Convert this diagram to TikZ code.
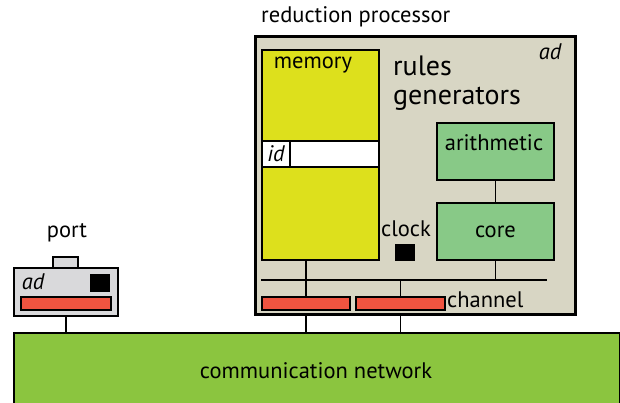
\documentclass[tikz,border=0pt]{standalone}
\usepackage{fontspec}
\setmainfont{PT Sans}
\definecolor{procbg}{RGB}{216,214,196}
\definecolor{memyel}{RGB}{221,224,28}
\definecolor{boxgreen}{RGB}{136,201,135}
\definecolor{netgreen}{RGB}{139,197,63}
\definecolor{chred}{RGB}{240,84,64}
\definecolor{portgray}{RGB}{217,217,219}
\begin{document}
\begin{tikzpicture}[x=1pt,y=-1pt,
  box/.style={draw=black, line width=1.9pt, inner sep=0pt, anchor=north west},
  wire/.style={draw=black, line width=1.5pt},
  lbl/.style={inner sep=0pt, font=\fontsize{22.5}{26}\selectfont},
  ilbl/.style={inner sep=0pt, font=\fontsize{22.5}{26}\selectfont\itshape}]
\useasboundingbox (0,0) rectangle (620,403);
\clip (0,0) rectangle (620,403);
% network
\node[box, fill=netgreen, minimum width=606pt, minimum height=100pt] (net) at (13,332) {};
\node[lbl] (nettext) at (316,371) {communication network};
% processor
\node[box, line width=2.6pt, fill=procbg, minimum width=320pt, minimum height=278pt] (proc) at (254,35) {};
\node[lbl, anchor=west] (proctitle) at (261,17) {reduction processor};
\node[ilbl] (procad) at (550,52) {ad};
\node[box, fill=memyel, minimum width=117pt, minimum height=210pt] (mem) at (261,49) {};
\node[lbl] (memtext) at (313,65) {memory};
\node[box, fill=white, minimum width=117pt, minimum height=26pt] (idrow) at (261,140) {};
\node[box, fill=white, minimum width=28pt, minimum height=26pt, ilbl] (idcell) at (261,140) {id};
\node[anchor=west, align=left, inner sep=0pt, font=\fontsize{28}{29}\selectfont] (rules) at (393,83) {rules\\generators};
\node[box, fill=boxgreen, minimum width=117pt, minimum height=57pt] (arith) at (436,122) {};
\node[lbl] (arithtext) at (494,143) {arithmetic};
\node[box, fill=boxgreen, minimum width=117pt, minimum height=57pt] (core) at (436,202) {};
\node[lbl] at (core.center) {core};
\node[lbl] (clocktext) at (406,229) {clock};
\node[box, draw=none, fill=black, minimum width=20pt, minimum height=17pt] (clocksq) at (394,243) {};
\node[box, fill=chred, minimum width=88pt, minimum height=13pt] (ch1) at (261,296) {};
\node[box, fill=chred, minimum width=89pt, minimum height=13pt] (ch2) at (355,296) {};
\node[lbl, anchor=west] (chtext) at (447,300) {channel};
\coordinate (busL) at (261,280);
\coordinate (busR) at (547,280);
\draw[wire] (busL) -- (busR);
\draw[wire] (arith.south) -- (core.north);
\draw[wire] (core.south) -- (core.south |- busL);
\draw[wire] (ch1.north |- mem.south) -- (ch1.north);
\draw[wire] (ch2.north |- busL) -- (ch2.north);
\draw[wire] (proc.south -| ch1.south) -- (net.north -| ch1.south);
\draw[wire] (proc.south -| ch2.south) -- (net.north -| ch2.south);
% port
\node[lbl] (porttext) at (67,233) {port};
\node[box, fill=portgray, minimum width=25pt, minimum height=11pt] (tab) at (52,256) {};
\node[box, fill=portgray, minimum width=104pt, minimum height=48pt] (port) at (13,267) {};
\node[ilbl] (portad) at (33,282) {ad};
\node[box, draw=none, fill=black, minimum width=20pt, minimum height=18pt] (portsq) at (89,273) {};
\node[box, fill=chred, minimum width=90pt, minimum height=13pt] (portbar) at (20,296) {};
\draw[wire] (port.south) -- (port.south |- net.north);
\end{tikzpicture}
\end{document}
